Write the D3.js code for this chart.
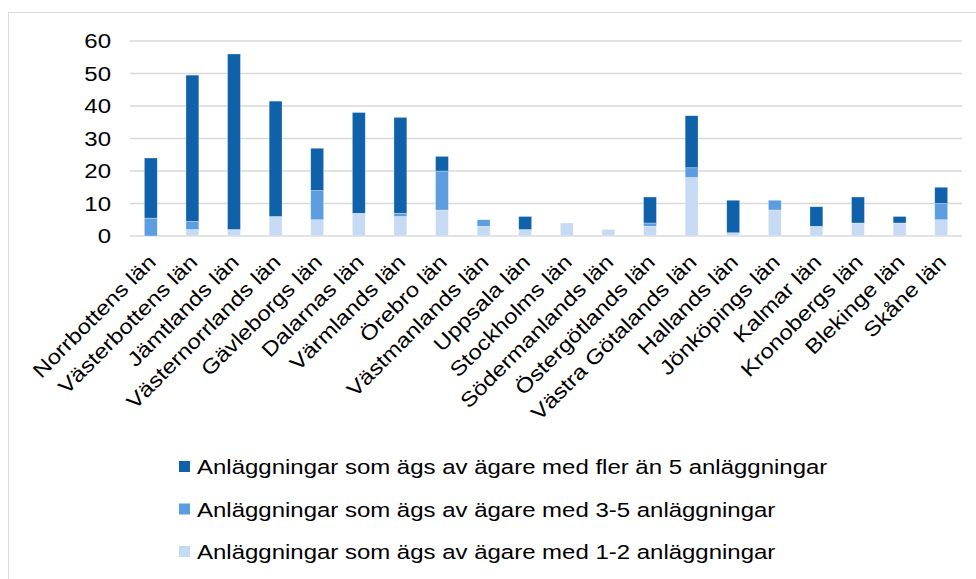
<!DOCTYPE html>
<html>
<head>
<meta charset="utf-8">
<script src="https://cdn.jsdelivr.net/npm/d3@7"></script>
<style>
  html, body { margin: 0; padding: 0; background: #fff; overflow: hidden; }
  svg { display: block; font-family: "Liberation Sans", Arial, sans-serif; }
</style>
</head>
<body>
<svg id="chart" width="976" height="579"></svg>
<script>
// Län, north to south as in the source chart
const counties = [
  "Norrbottens län", "Västerbottens län", "Jämtlands län", "Västernorrlands län",
  "Gävleborgs län", "Dalarnas län", "Värmlands län", "Örebro län",
  "Västmanlands län", "Uppsala län", "Stockholms län", "Södermanlands län",
  "Östergötlands län", "Västra Götalands län", "Hallands län", "Jönköpings län",
  "Kalmar län", "Kronobergs län", "Blekinge län", "Skåne län"
];

// number of facilities per owner size
const owners12 = [0, 2, 2, 6, 5, 7, 6, 8, 3, 2, 4, 2, 3, 18, 1, 8, 3, 4, 4, 5];
const owners35 = [5.5, 2.5, 0, 0, 9, 0, 1, 12, 2, 0, 0, 0, 1, 3, 0, 3, 0, 0, 0, 5];
const ownersOver5 = [18.5, 45, 54, 35.5, 13, 31, 29.5, 4.5, 0, 4, 0, 0, 8, 16, 10, 0, 6, 8, 2, 5];

const seriesKeys = ["s12", "s35", "s5"];
const seriesNames = [
  "Anläggningar som ägs av ägare med 1-2 anläggningar",
  "Anläggningar som ägs av ägare med 3-5 anläggningar",
  "Anläggningar som ägs av ägare med fler än 5 anläggningar"
];
const seriesColors = ["#C6DBF3", "#5C9CE1", "#0F61A9"];
const yTicks = [0, 10, 20, 30, 40, 50, 60];

const rows = counties.map((c, i) => ({
  county: c, s12: owners12[i], s35: owners35[i], s5: ownersOver5[i]
}));

// the source font is wider than Arial, so stretch text along its baseline
const fontSize = "20.5px";
const sx = 1.17;

const svg = d3.select("#chart");

// outer chart frame
svg.append("rect")
  .attr("x", 8.5).attr("y", 12.5)
  .attr("width", 1000).attr("height", 600)
  .attr("fill", "none").attr("stroke", "#D9D9D9").attr("stroke-width", 1);

const plot = { left: 130, right: 962, top: 41, bottom: 236 };

const x = d3.scaleBand()
  .domain(counties)
  .range([plot.left, plot.right])
  .paddingInner(0.69)
  .paddingOuter(0.345);

const y = d3.scaleLinear()
  .domain([0, 60])
  .range([plot.bottom, plot.top]);

// gridlines
svg.append("g")
  .selectAll("line")
  .data(yTicks)
  .join("line")
  .attr("x1", plot.left).attr("x2", plot.right)
  .attr("y1", d => y(d)).attr("y2", d => y(d))
  .attr("stroke", "#D9D9D9").attr("stroke-width", 1.5);

// y axis labels
const yAxis = svg.append("g")
  .attr("transform", `translate(${plot.left - 19},0)`)
  .call(d3.axisLeft(y).tickValues(yTicks).tickSize(0).tickPadding(0));
yAxis.select(".domain").remove();
yAxis.selectAll("text")
  .attr("font-size", fontSize)
  .attr("fill", "#000")
  .attr("font-family", "Liberation Sans, Arial, sans-serif")
  .attr("transform", `scale(${sx},1)`);

// stacked bars
const stacked = d3.stack().keys(seriesKeys)(rows);

svg.append("g")
  .selectAll("g")
  .data(stacked)
  .join("g")
  .attr("fill", (d, i) => seriesColors[i])
  .selectAll("rect")
  .data(d => d.filter(p => p[1] - p[0] > 0))
  .join("rect")
  .attr("x", d => x(d.data.county))
  .attr("width", x.bandwidth())
  .attr("y", d => y(d[1]))
  .attr("height", d => y(d[0]) - y(d[1]))
  .attr("stroke", "#fff")
  .attr("stroke-opacity", 0.5)
  .attr("stroke-width", 0.6);

// rotated category labels
svg.append("g")
  .selectAll("text")
  .data(counties)
  .join("text")
  .attr("transform", d => `translate(${x(d) + x.bandwidth() / 2 - 4},${plot.bottom + 17}) rotate(-45) scale(${sx},1)`)
  .attr("text-anchor", "end")
  .attr("dy", "0.71em")
  .attr("font-size", fontSize)
  .attr("fill", "#000")
  .text(d => d);

// legend, top row is the darkest series
const legendOrder = [2, 1, 0];
const legend = svg.append("g")
  .selectAll("g")
  .data(legendOrder)
  .join("g")
  .attr("transform", (d, i) => `translate(179,${467 + i * 42.5})`);

legend.append("rect")
  .attr("x", 0).attr("y", -6)
  .attr("width", 11).attr("height", 11)
  .attr("fill", d => seriesColors[d]);

legend.append("text")
  .attr("transform", `translate(18,0) scale(${sx},1)`)
  .attr("dy", "0.35em")
  .attr("font-size", fontSize)
  .attr("fill", "#000")
  .text(d => seriesNames[d]);
</script>
</body>
</html>
